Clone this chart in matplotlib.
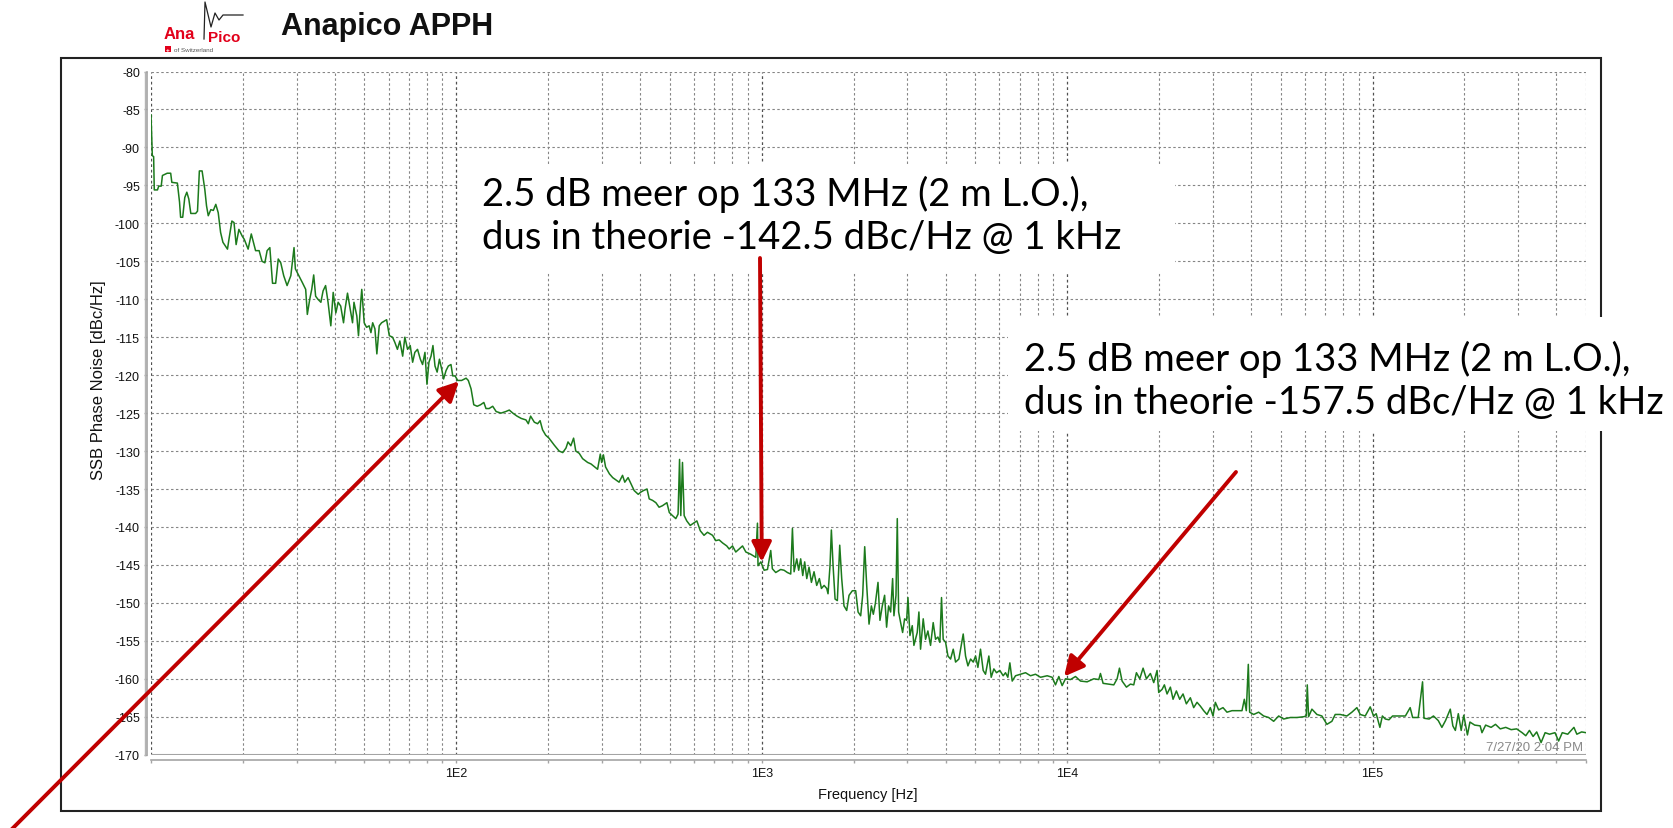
import matplotlib
matplotlib.use("Agg")
import matplotlib.pyplot as plt
from matplotlib.patches import Rectangle
from matplotlib.lines import Line2D
from matplotlib.transforms import ScaledTranslation
from matplotlib.ticker import FixedLocator, FixedFormatter, NullFormatter

plt.rcParams["font.family"] = ["Liberation Sans", "DejaVu Sans"]

# SSB phase noise trace (offset frequency in Hz, level in dBc/Hz)
freq_hz = [
    10.0, 10.1, 10.2, 10.25, 10.5, 10.6, 10.8, 10.9, 11.3, 11.6, 11.7, 12.2, 12.4, 12.5,
    12.7, 12.9, 13.1, 13.3, 13.5, 14.0, 14.2, 14.4, 14.7, 15.0, 15.2, 15.4, 15.7, 16.0,
    16.3, 16.6, 16.9, 17.2, 17.8, 18.0, 18.4, 18.7, 19.0, 19.4, 19.9, 20.2, 20.8, 21.3,
    22.0, 22.6, 23.1, 23.6, 24.0, 24.5, 25.0, 25.6, 26.1, 26.6, 27.2, 27.9, 28.7, 29.4,
    29.7, 30.5, 31.3, 32.1, 32.5, 33.1, 33.6, 34.1, 34.6, 35.2, 36.0, 36.6, 37.3, 38.0,
    38.8, 39.5, 40.3, 41.0, 41.8, 42.7, 43.2, 44.0, 44.9, 45.7, 46.2, 47.2, 47.8, 48.6,
    49.0, 49.9, 50.8, 51.8, 52.5, 53.2, 54.1, 54.9, 55.9, 56.9, 58.0, 59.1, 60.3, 61.8,
    62.9, 64.1, 65.3, 66.7, 67.8, 69.2, 70.6, 71.9, 73.1, 74.6, 76.2, 77.5, 78.9, 80.1,
    81.3, 82.6, 83.8, 85.1, 86.5, 88.0, 89.5, 90.8, 92.5, 94.1, 96.0, 97.3, 99.0, 101,
    104, 107.6, 109.4, 111.7,
    114, 117, 120, 123, 125, 128, 131.5, 135, 140, 145, 149, 153, 158, 163, 169, 172,
    175, 180, 184.5, 188, 191.5, 196, 201, 209, 217, 223, 228.5, 232, 237, 242, 246,
    252.5, 259, 269, 276, 284, 290, 296, 299, 303, 308, 317, 325, 333, 341, 350, 356,
    365, 373, 382, 394, 402, 410, 421, 428, 439, 450, 461, 473, 489, 498, 510, 523, 532,
    538, 543, 550, 557, 568, 583, 598, 613, 629, 647, 664, 690, 707, 725, 744, 768, 782,
    802, 822, 843, 865, 887, 921, 956, 968, 972, 993, 1018, 1044, 1070, 1083, 1111, 1153,
    1183, 1213, 1244, 1260, 1276, 1302, 1321, 1341, 1362, 1382, 1404, 1428, 1454, 1483,
    1513, 1544, 1568, 1600, 1632, 1648, 1673, 1690, 1712, 1738, 1768, 1800, 1827, 1859,
    1897, 1931, 1980, 2030, 2067, 2108, 2140, 2173, 2206, 2245, 2285, 2319, 2354, 2402,
    2438, 2481, 2525, 2563, 2602, 2642, 2682, 2709, 2751, 2778, 2806, 2849, 2892, 2936,
    2981, 3011, 3056, 3110, 3149, 3229, 3270, 3311, 3378, 3438, 3499, 3570, 3642, 3707,
    3773, 3830, 3878, 3927, 3999, 4070, 4152, 4236, 4311, 4420, 4498, 4567, 4648, 4732,
    4828, 4926, 5013, 5102, 5203, 5309, 5403, 5541, 5640, 5754, 5870, 6019, 6173, 6282,
    6394, 6492, 6608, 6776, 7036, 7306, 7586, 7877,
    8180, 8602, 8931, 9158, 9391, 9630, 9875, 10254, 10648, 11057, 11625, 12225, 12693,
    12853, 13113, 13687, 14214, 14575, 14833, 15132, 15636, 16114, 16523, 16857, 17287,
    17727, 18177, 18733, 19210, 19698, 19945, 20453, 20815, 21238, 21778, 22220, 22785,
    23364, 23958, 24566, 25318, 25962, 26622, 27299, 27993, 28705, 29434, 30031, 30565,
    31342, 32383, 33370, 34654, 35988, 37366, 38031, 38606, 39191, 39587, 40812, 42366,
    43996, 45688, 47446, 49271, 51165, 53797, 56568, 59482, 60674, 61132, 61735, 63306,
    65743, 68263, 70886, 73600, 75469, 78371, 82414, 85583, 88864, 91126, 94624, 98266,
    100763,
    102.8e3, 105.7e3, 107.7e3, 110.1e3, 113.2e3, 116.3e3, 122.9e3, 128.1e3, 132.8e3,
    135.3e3, 141.1e3, 145.8e3, 147.4e3, 153.2e3, 158.3e3, 164.1e3, 168.7e3, 173.4e3,
    179.7e3, 183.2e3, 186.7e3, 190.9e3, 195.1e3, 198.9e3, 204.5e3, 208.4e3, 216.0e3,
    225.1e3, 228.2e3, 234.6e3, 244.5e3, 252.7e3, 261.9e3, 273.0e3, 284.4e3, 296.4e3,
    308.9e3, 317.5e3, 326.4e3, 335.5e3, 344.8e3, 356.4e3, 367.4e3, 379.7e3, 395.7e3,
    406.7e3, 418.1e3, 435.7e3, 456.5e3, 466.7e3, 483.7e3, 500e3,
]
phase_noise_dbc = [
    -85.7, -91.1, -91.2, -95.6, -95.6, -95.1, -95.1, -93.7, -93.4, -93.4, -94.6, -94.7, -97.2, -99.2,
    -99.2, -96.6, -95.9, -96.8, -98.7, -98.7, -98.4, -93.1, -93.1, -95.5, -97.7, -99.0, -98.2, -98.3,
    -97.5, -98.6, -101.2, -102.5, -103.4, -102.1, -99.7, -99.9, -102.8, -100.8, -101.7, -102.1, -103.4, -101.4,
    -103.6, -103.6, -105.0, -105.2, -103.6, -103.2, -107.9, -107.9, -104.7, -105.2, -106.9, -108.2, -106.9, -103.2,
    -106.0, -106.9, -107.8, -108.7, -112.0, -110.0, -108.7, -106.8, -109.6, -110.0, -110.4, -108.9, -108.2, -110.4,
    -113.5, -109.1, -111.8, -110.4, -110.9, -113.1, -111.3, -109.2, -111.3, -113.1, -110.4, -112.2, -114.8, -110.4,
    -108.7, -113.1, -113.7, -113.5, -114.4, -113.1, -113.9, -117.2, -113.5, -113.1, -112.9, -112.7, -114.8, -115.0,
    -115.7, -116.6, -115.5, -117.5, -115.0, -116.6, -116.1, -118.3, -117.0, -116.6, -117.9, -118.6, -117.0, -121.2,
    -118.3, -117.5, -116.1, -118.8, -119.6, -117.9, -119.2, -120.5, -119.4, -118.8, -118.6, -120.1, -120.1, -120.7,
    -120.7, -120.4, -120.7, -121.8,
    -123.9, -124.1, -123.9, -123.6, -124.4, -124.4, -124.1, -124.8, -125.0, -124.8, -124.6, -125.0, -125.4, -125.7, -125.9, -126.4,
    -125.4, -126.2, -126.4, -126.0, -127.2, -127.9, -128.3, -129.2, -130.0, -130.2, -129.6, -128.8, -129.3, -128.3, -130.0,
    -130.3, -131.0, -131.5, -131.7, -132.1, -132.4, -130.4, -131.5, -130.5, -132.1, -133.0, -133.5, -133.8, -134.1, -133.2, -134.1,
    -133.5, -134.3, -135.2, -135.7, -135.4, -135.2, -135.0, -136.3, -136.5, -136.8, -137.4, -137.2, -136.8, -138.1, -138.5, -138.9, -138.3,
    -131.1, -138.5, -131.5, -138.5, -139.2, -139.8, -139.5, -139.2, -140.5, -141.1, -140.7, -141.1, -141.8, -141.7, -142.1, -142.5, -142.9,
    -142.5, -143.3, -142.9, -142.5, -143.3, -143.6, -144.0, -139.5, -145.1, -144.6, -145.7, -145.6, -143.1, -145.5, -146.0, -145.6,
    -145.7, -146.0, -146.2, -140.2, -145.9, -144.2, -145.7, -144.2, -146.4, -144.6, -146.8, -145.3, -147.3, -145.9,
    -147.7, -146.8, -148.1, -147.7, -148.1, -148.8, -145.1, -140.4, -145.1, -149.5, -149.7, -142.4, -146.8, -150.4,
    -151.0, -149.0, -148.4, -148.4, -151.2, -151.7, -149.0, -142.6, -147.7, -152.8, -150.4, -151.5, -150.1, -147.3,
    -152.3, -150.4, -149.0, -153.2, -150.4, -151.2, -146.8, -151.7, -149.0, -138.9, -151.2, -152.6, -153.9, -152.1,
    -152.3, -149.3, -154.3, -153.0, -155.6, -153.9, -151.2, -156.1, -152.1, -154.8, -153.7, -155.6, -152.6, -154.8,
    -154.5, -155.2, -149.3, -154.8, -155.2, -157.0, -157.4, -156.1, -157.8, -157.4, -155.6, -154.1, -157.0, -158.3,
    -157.4, -157.8, -157.0, -158.5, -156.1, -158.9, -159.4, -157.0, -159.8, -158.7, -159.2, -158.9, -159.6, -159.2,
    -159.8, -157.9, -160.3, -159.6, -159.4, -159.2, -159.6, -159.4,
    -159.8, -159.6, -159.8, -160.8, -159.7, -160.9, -160.0, -160.1, -159.7, -160.3, -160.4, -160.0, -160.1,
    -159.3, -160.6, -160.7, -160.8, -160.0, -158.6, -160.3, -161.1, -160.7, -160.8, -159.2, -160.0,
    -158.6, -160.0, -159.3, -160.5, -158.9, -161.8, -161.4, -160.8, -162.0, -161.1, -162.7, -161.6,
    -162.7, -162.0, -163.3, -162.5, -163.8, -163.1, -163.6, -164.2, -164.7, -163.8, -164.9, -163.1,
    -164.1, -163.8, -164.4, -164.2, -164.2, -164.2, -162.7, -164.2, -158.1, -164.4, -164.7, -164.4,
    -164.9, -165.1, -165.6, -164.9, -165.3, -165.1, -165.1, -165.0, -164.9, -160.8, -165.0, -164.0,
    -164.7, -164.9, -166.0, -165.6, -164.7, -164.7, -164.9, -164.4, -163.8, -164.7, -164.9, -163.7,
    -164.9,
    -164.6, -166.4, -164.9, -165.3, -165.4, -164.9, -164.9, -164.9, -163.8,
    -165.1, -165.1, -160.4, -165.2, -165.3, -164.9, -165.5, -166.4, -165.5,
    -164.0, -166.2, -166.8, -164.6, -166.8, -164.8, -167.4, -165.7, -166.1,
    -166.2, -167.1, -166.1, -166.4, -166.0, -166.6, -166.4, -166.7, -166.6,
    -167.1, -167.5, -166.8, -167.6, -167.0, -168.4, -167.1, -167.3, -167.1,
    -168.2, -167.1, -167.3, -166.4, -167.3, -167.0, -167.1,
]

decade_ticks = [10, 100, 1e3, 1e4, 1e5]
decade_labels = ["", "1E2", "1E3", "1E4", "1E5"]
level_ticks = list(range(-170, -79, 5))

note_lines = [
    "2.5 dB meer op 133 MHz (2 m L.O.),\ndus in theorie -142.5 dBc/Hz @ 1 kHz",
    "2.5 dB meer op 133 MHz (2 m L.O.),\ndus in theorie -157.5 dBc/Hz @ 1 kHz",
]
# points on the trace the arrows point at
arrow_targets = [(1000, -144.6), (9770, -159.7), (102, -120.8)]

W, H = 1673, 829


def fx(px):
    return px / W


def fy(py):
    return 1 - py / H


fig = plt.figure(figsize=(W / 100, H / 100), dpi=100)
ax = fig.add_axes([fx(151), fy(755.7), fx(1586 - 151), (755.7 - 72.5) / H])

ax.semilogx(freq_hz, phase_noise_dbc, color="#1c7a1c", lw=1.1, zorder=2)
ax.set_xlim(10, 5e5)
ax.set_ylim(-170, -80)

minor_ticks = [m * 10 ** k for k in range(1, 6) for m in range(2, 10) if m * 10 ** k <= 5e5]
ax.xaxis.set_major_locator(FixedLocator(decade_ticks))
ax.xaxis.set_major_formatter(FixedFormatter(decade_labels))
ax.xaxis.set_minor_locator(FixedLocator(minor_ticks))
ax.xaxis.set_minor_formatter(NullFormatter())
ax.set_yticks(level_ticks)
ax.set_yticklabels([str(v) for v in level_ticks])

grid_dash = (0, (2.2, 2.2))
ax.set_axisbelow(True)
ax.grid(which="major", axis="x", color="#505050", ls=grid_dash, lw=0.9)
ax.grid(which="minor", axis="x", color="#858585", ls=grid_dash, lw=0.8)
ax.grid(which="major", axis="y", color="#858585", ls=grid_dash, lw=0.8)

for side in ("top", "right"):
    ax.spines[side].set_visible(False)
ax.spines["left"].set_position(("outward", 3))
ax.spines["bottom"].set_position(("outward", 4))
for side in ("left", "bottom"):
    ax.spines[side].set_color("#a4a4a4")
    ax.spines[side].set_linewidth(1.2)
ax.axhline(-170, color="#a4a4a4", lw=1.5, zorder=1)
# second rule of the double line on the level axis
shift = ScaledTranslation(-6 / 100, 0, fig.dpi_scale_trans)
ax.add_artist(Line2D([0, 0], [0, 1], transform=ax.transAxes + shift,
                     color="#b4b4b4", lw=1.0, clip_on=False))

ax.tick_params(axis="both", which="both", direction="out", color="#a4a4a4",
               length=2.5, width=1, labelsize=9, labelcolor="#111111")
ax.tick_params(axis="y", pad=2.5)
ax.tick_params(axis="x", pad=2)

fig.text(fx(98), fy(380), "SSB Phase Noise [dBc/Hz]", rotation=90,
         ha="center", va="center", fontsize=12, color="#111111")
fig.text(fx(868), fy(795), "Frequency [Hz]", ha="center", va="center",
         fontsize=10.5, color="#111111")
ax.text(0.998, 0.012, "7/27/20 2:04 PM", transform=ax.transAxes, ha="right",
        va="center", fontsize=9.5, color="#8a8a8a")

# outer frame around the plot window
ax.add_artist(Rectangle((fx(61), fy(812)), fx(1601 - 61), (812 - 59) / H,
                        transform=fig.transFigure, fill=False, ec="#222222",
                        lw=1.5, clip_on=False, zorder=3))

# white boxes behind the notes
ax.add_artist(Rectangle((fx(458), fy(273)), fx(1175 - 458), (273 - 165) / H,
                        transform=fig.transFigure, fc="white", ec="none",
                        clip_on=False, zorder=4))
ax.add_artist(Rectangle((fx(1008), fy(432)), 0.5, (432 - 318) / H,
                        transform=fig.transFigure, fc="white", ec="none",
                        clip_on=False, zorder=4))

note_font = ["Lato", "DejaVu Sans"]
ax.text(fx(482), fy(216), note_lines[0], transform=fig.transFigure, ha="left",
        va="center", fontsize=27.5, family=note_font, linespacing=1.25, zorder=5)
ax.text(fx(1024), fy(381), note_lines[1], transform=fig.transFigure, ha="left",
        va="center", fontsize=27.5, family=note_font, linespacing=1.25, zorder=5)

arrow_style = dict(arrowstyle="-|>,head_length=0.8,head_width=0.4", mutation_scale=15,
                   lw=2.8, color="#c00000", shrinkA=0, shrinkB=0)
arrow_tails = [(fx(760), fy(259)), (fx(1236), fy(473)), (fx(6), fy(836))]
for target, tail in zip(arrow_targets, arrow_tails):
    ax.annotate("", xy=target, xytext=tail, textcoords="figure fraction",
                arrowprops=arrow_style, annotation_clip=False, zorder=6)

# header: logo and instrument name
fig.text(fx(164), fy(39), "Ana", color="#e2001a", weight="bold", fontsize=12,
         va="baseline", ha="left")
fig.text(fx(208), fy(42), "Pico", color="#e2001a", weight="bold", fontsize=11,
         va="baseline", ha="left")
wave_x = [204, 205, 211, 215, 219, 223, 243]
wave_y = [40, 3, 28, 14, 21, 16, 16]
fig.add_artist(Line2D([fx(v) for v in wave_x], [fy(v) for v in wave_y],
                      transform=fig.transFigure, color="#222222", lw=0.9))
fig.add_artist(Rectangle((fx(165), fy(53)), fx(6), 6 / H, transform=fig.transFigure,
                         fc="#e2001a", ec="none"))
fig.text(fx(168), fy(50), "+", color="white", fontsize=4.5, weight="bold",
         ha="center", va="center")
fig.text(fx(174), fy(50), "of Switzerland", color="#555555", fontsize=4.5,
         ha="left", va="center")
fig.text(fx(281), fy(27), "Anapico APPH", fontsize=22, weight="bold",
         ha="left", va="center", color="#111111")

fig.savefig("out.png", dpi=100)
